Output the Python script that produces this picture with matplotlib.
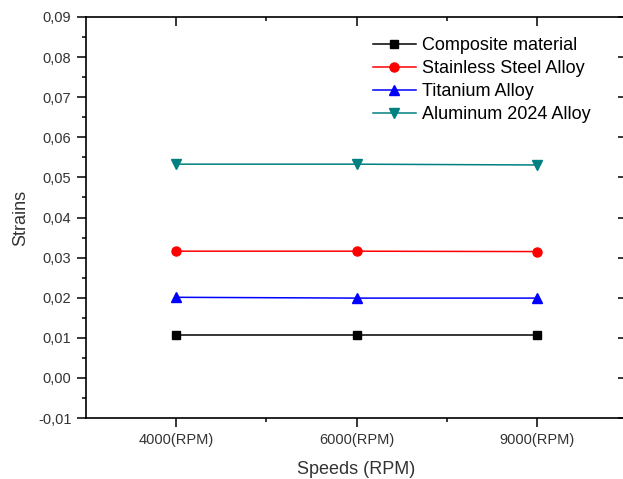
import matplotlib
matplotlib.use("Agg")
import matplotlib.pyplot as plt
from matplotlib.ticker import MultipleLocator, FuncFormatter, FixedLocator

plt.rcParams['font.family'] = ['Liberation Sans', 'DejaVu Sans']

speeds = ["4000(RPM)", "6000(RPM)", "9000(RPM)"]
composite = [0.0107, 0.0107, 0.0107]
stainless = [0.0316, 0.0316, 0.0315]
titanium = [0.0201, 0.0199, 0.0199]
aluminum = [0.0533, 0.0533, 0.0531]

series = [
    ("Composite material", composite, "#000000", "s", 5.5),
    ("Stainless Steel Alloy", stainless, "#ff0000", "o", 6.5),
    ("Titanium Alloy", titanium, "#0000ff", "^", 7.0),
    ("Aluminum 2024 Alloy", aluminum, "#008080", "v", 7.0),
]

text_col = "#333333"

fig = plt.figure(figsize=(6.23, 4.79), dpi=100)
ax = fig.add_axes([86/623, 61/479, 541/623, 401/479])

x = list(range(len(speeds)))
for name, vals, color, marker, ms in series:
    ax.plot(x, vals, color=color, marker=marker, markersize=ms,
            linewidth=1.1, label=name)

ax.set_xlim(-0.5, 2.5)
ax.set_ylim(-0.01, 0.09)
ax.set_xticks(x)
ax.set_xticklabels(speeds)
ax.xaxis.set_minor_locator(FixedLocator([0.5, 1.5]))
ax.yaxis.set_major_locator(MultipleLocator(0.01))
ax.yaxis.set_minor_locator(MultipleLocator(0.005))
ax.yaxis.set_major_formatter(FuncFormatter(lambda v, p: f"{v:.2f}".replace(".", ",")))

ax.tick_params(axis='both', which='both', direction='out', top=True, right=True,
               labelsize=10.5, labelcolor=text_col, width=1.1)
ax.tick_params(axis='both', which='major', length=6.5)
ax.tick_params(axis='both', which='minor', length=3)
ax.tick_params(axis='x', which='major', pad=4)
ax.tick_params(axis='y', which='major', pad=4)

# top and right ticks point into the plot
for t in ax.xaxis.get_major_ticks() + ax.xaxis.get_minor_ticks():
    t.tick2line.set_marker(3)
for t in ax.yaxis.get_major_ticks() + ax.yaxis.get_minor_ticks():
    t.tick2line.set_marker(0)

for s in ax.spines.values():
    s.set_linewidth(1.2)

ax.set_xlabel("Speeds (RPM)", fontsize=13, color=text_col, labelpad=10.5)
ax.set_ylabel("Strains", fontsize=13, color=text_col, labelpad=6)

ax.legend(loc="upper left", bbox_to_anchor=(0.53, 0.95), frameon=False,
          fontsize=13, handlelength=2.4, handletextpad=0.33,
          labelspacing=0.34, borderaxespad=0, borderpad=0)

fig.savefig("out.png", dpi=100)
